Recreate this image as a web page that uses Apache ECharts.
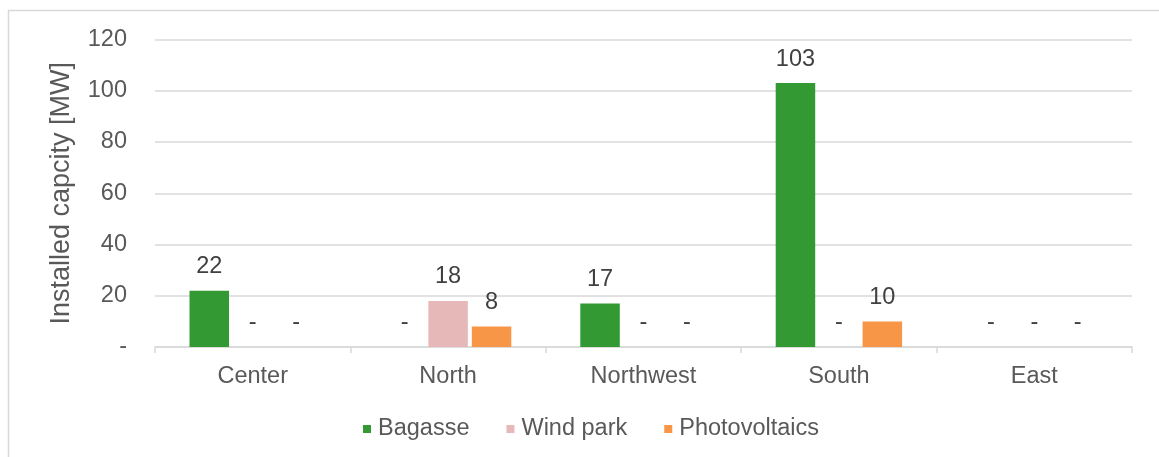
<!DOCTYPE html>
<html>
<head>
<meta charset="utf-8">
<script src="https://cdn.jsdelivr.net/npm/echarts@6/dist/echarts.min.js"></script>
<style>
  html, body { margin: 0; padding: 0; background: #ffffff; }
  #chart { width: 1159px; height: 457px; }
</style>
</head>
<body>
<div id="chart"></div>
<script>
// Installed capacity per region, by technology (MW)
const regions = ['Center', 'North', 'Northwest', 'South', 'East'];
const bagasse = [22, 0, 17, 103, 0];
const windPark = [0, 18, 0, 0, 0];
const photovoltaics = [0, 8, 0, 10, 0];
const yTicks = [0, 20, 40, 60, 80, 100, 120];

const FONT = '"Liberation Sans", Arial, sans-serif';
const GRID = '#d9d9d9';
const TEXT = '#595959';

// zero values are shown as a dash, as in accounting number format
const dash = v => (v === 0 ? '-' : String(v));

function barSeries(name, data, color) {
  return {
    name: name,
    type: 'bar',
    data: data,
    barWidth: 39.5,
    barGap: '10%',
    itemStyle: { color: color },
    label: {
      show: true,
      position: 'top',
      distance: 12,
      formatter: p => dash(p.value),
      fontFamily: FONT,
      fontSize: 23.5,
      color: '#404040'
    }
  };
}

const chart = echarts.init(document.getElementById('chart'), null, { renderer: 'canvas' });
chart.setOption({
  animation: false,
  backgroundColor: '#ffffff',
  textStyle: { fontFamily: FONT },
  graphic: [{
    type: 'rect',
    shape: { x: 8.5, y: 10.5, width: 1300, height: 600 },
    style: { fill: 'none', stroke: GRID, lineWidth: 1.5 },
    silent: true,
    z: -1
  }],
  grid: { left: 155, right: 27, top: 39.5, bottom: 110, containLabel: false },
  legend: {
    left: 358,
    top: 412,
    icon: 'rect',
    itemWidth: 8,
    itemHeight: 8,
    itemGap: 37,
    textStyle: { fontFamily: FONT, fontSize: 23.5, color: TEXT, padding: [0, 0, 0, 2] },
    data: ['Bagasse', 'Wind park', 'Photovoltaics']
  },
  xAxis: {
    type: 'category',
    data: regions,
    axisLine: { lineStyle: { color: GRID, width: 1.5 } },
    axisTick: { show: true, length: 6, lineStyle: { color: GRID, width: 1.5 } },
    axisLabel: { fontFamily: FONT, fontSize: 23.5, color: TEXT, margin: 18 }
  },
  yAxis: {
    type: 'value',
    min: yTicks[0],
    max: yTicks[yTicks.length - 1],
    interval: yTicks[1] - yTicks[0],
    name: 'Installed capcity [MW]',
    nameLocation: 'middle',
    nameRotate: 90,
    nameGap: 80,
    nameTextStyle: { fontFamily: FONT, fontSize: 27, color: TEXT },
    axisLine: { show: false },
    axisTick: { show: false },
    axisLabel: { fontFamily: FONT, fontSize: 23.5, color: TEXT, margin: 28, formatter: dash },
    splitLine: { lineStyle: { color: GRID, width: 1.5 } }
  },
  series: [
    barSeries('Bagasse', bagasse, '#339933'),
    barSeries('Wind park', windPark, '#e6b8b7'),
    barSeries('Photovoltaics', photovoltaics, '#f79646')
  ]
});
</script>
</body>
</html>
